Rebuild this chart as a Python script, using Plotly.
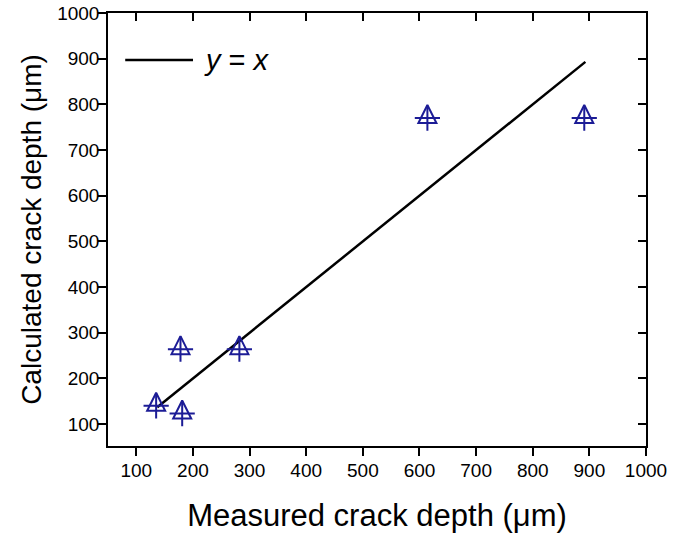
import plotly.graph_objects as go

measured = [135, 178, 181, 282, 614, 891]
calculated = [140, 264, 123, 264, 770, 770]
line_x = [137, 893]
line_y = [137, 893]
ticks = [100, 200, 300, 400, 500, 600, 700, 800, 900, 1000]

navy = "#1c1c96"
font = "Liberation Sans, Arial, sans-serif"

X_RANGE = [50, 1000]
Y_RANGE = [52, 1000]
W, H = 686, 534
M = dict(l=108, r=40, t=13, b=88)
PLOT_H = H - M["t"] - M["b"]
# triangle apex sits ~13 px above the marker centre
apex_shift = 13 * (Y_RANGE[1] - Y_RANGE[0]) / PLOT_H

fig = go.Figure()
fig.add_trace(go.Scatter(x=line_x, y=line_y, mode="lines", showlegend=False,
                         line=dict(color="black", width=2.5)))
fig.add_trace(go.Scatter(x=measured, y=calculated, mode="markers", showlegend=False,
                         xaxis="x", yaxis="y3",
                         marker=dict(symbol="arrow-up-open", size=18, color=navy,
                                     line=dict(width=2, color=navy))))
fig.add_trace(go.Scatter(x=measured, y=calculated, mode="markers", showlegend=False,
                         marker=dict(symbol="cross-thin-open", size=18, color=navy,
                                     line=dict(width=2, color=navy))))
fig.add_trace(go.Scatter(x=[None], y=[None], xaxis="x2", yaxis="y2", showlegend=False,
                         hoverinfo="skip"))

axis_common = dict(tickvals=ticks, showgrid=False, zeroline=False, automargin=False,
                   showline=True, linecolor="black", linewidth=1.5,
                   ticks="outside", ticklen=8, tickwidth=1.5, tickcolor="black",
                   tickfont=dict(family=font, size=19, color="black"))
mirror_common = dict(tickvals=ticks, showline=True, linecolor="black", linewidth=1.5,
                     ticks="inside", ticklen=8, tickwidth=1.5, tickcolor="black",
                     showticklabels=False, showgrid=False, zeroline=False)

fig.update_layout(
    width=W, height=H,
    margin=M,
    plot_bgcolor="white", paper_bgcolor="white",
    font=dict(family=font, color="black"),
    showlegend=False,
    xaxis=dict(**axis_common, range=X_RANGE, ticklabelstandoff=-2,
               title=dict(text="Measured crack depth (μm)", font=dict(size=31, family=font),
                          standoff=25)),
    yaxis=dict(**axis_common, range=Y_RANGE, ticklabelstandoff=-5,
               title=dict(text="Calculated crack depth (μm)", font=dict(size=28, family=font),
                          standoff=7)),
    xaxis2=dict(**mirror_common, range=X_RANGE, overlaying="x", side="top"),
    yaxis2=dict(**mirror_common, range=Y_RANGE, overlaying="y", side="right"),
    yaxis3=dict(range=[Y_RANGE[0] - apex_shift, Y_RANGE[1] - apex_shift], overlaying="y",
                visible=False),
    shapes=[dict(type="line", xref="paper", yref="paper", x0=0.032, x1=0.158,
                 y0=0.8915, y1=0.8915, line=dict(color="black", width=2.5))],
    annotations=[dict(text="<i>y</i> = <i>x</i>", xref="paper", yref="paper", x=0.175,
                      y=0.8915, xanchor="left", yanchor="middle", showarrow=False,
                      font=dict(family=font, size=29, color="black"))],
)

fig.write_html("out.html", config={"displayModeBar": False},
               post_script="document.body.style.margin='0';")
